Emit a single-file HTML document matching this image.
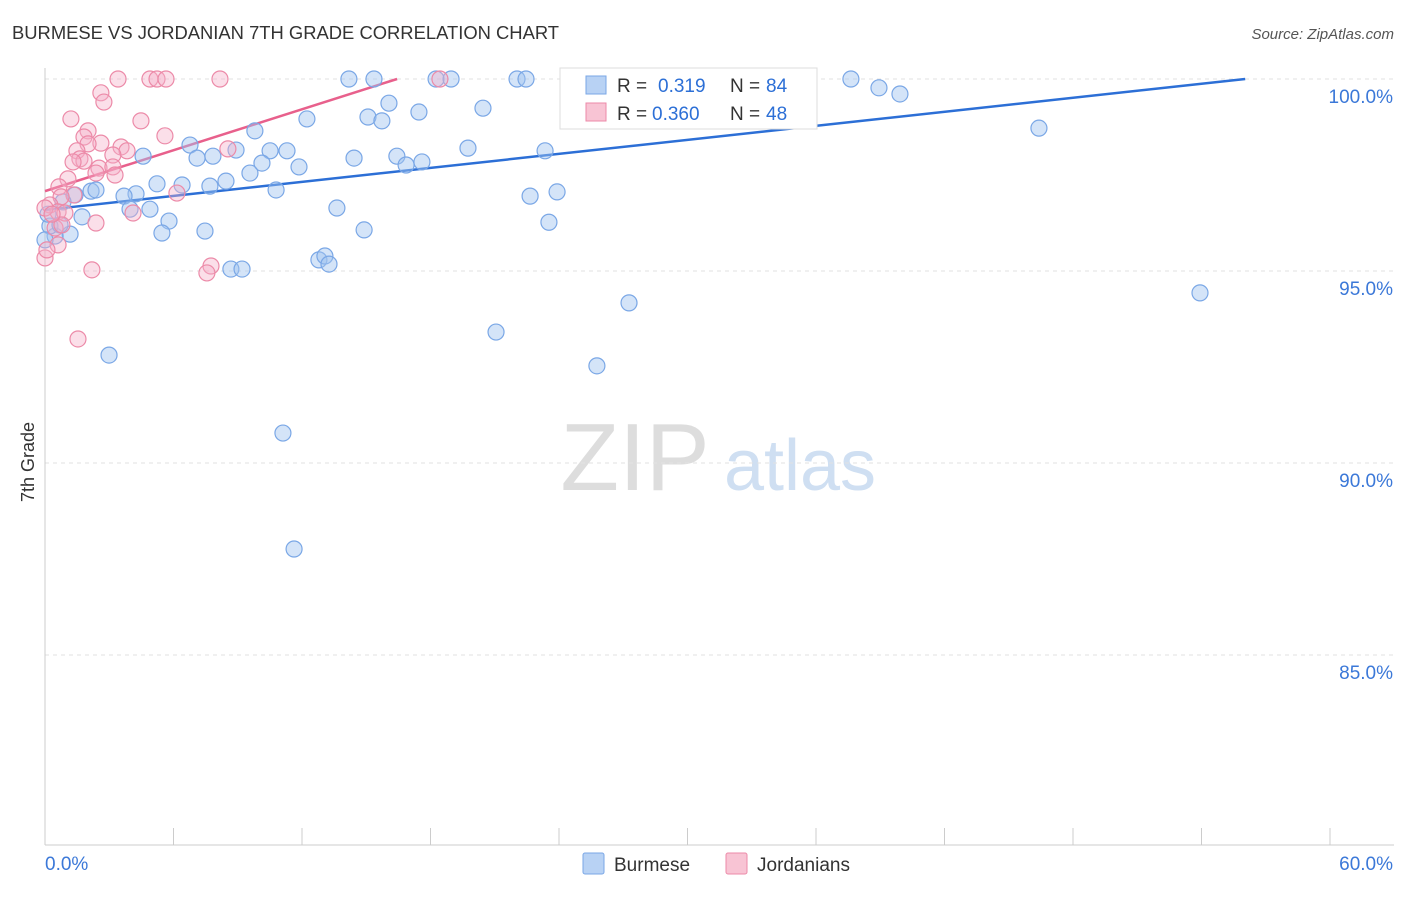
<!DOCTYPE html>
<html><head><meta charset="utf-8">
<style>
body{margin:0;background:#fff;font-family:"Liberation Sans",sans-serif;}
svg text{font-family:"Liberation Sans",sans-serif;}
</style></head>
<body>
<svg width="1406" height="892" id="chart">
<text x="12" y="39" font-size="18.4" fill="#333">BURMESE VS JORDANIAN 7TH GRADE CORRELATION CHART</text>
<text x="1394" y="39" font-size="15" fill="#555" text-anchor="end" font-style="italic">Source: ZipAtlas.com</text>
<text x="34" y="462" font-size="18" fill="#333" text-anchor="middle" transform="rotate(-90 34 462)">7th Grade</text>
<g>
<text x="635" y="490" font-size="96" fill="#ddd" text-anchor="middle" font-family="Liberation Serif, serif">ZIP</text>
<text x="800" y="490" font-size="72" fill="#cfdff2" text-anchor="middle">atlas</text>
</g>
<g id="grid"></g>
<g id="lines"></g>
<g id="pts"></g>
<g>
<rect x="560" y="68" width="257" height="61" fill="#fff" stroke="#ddd"/>
<rect x="586" y="76" width="20" height="18" fill="#b8d2f4" stroke="#7aa7e6"/>
<text x="617" y="92" font-size="19" fill="#333">R = </text><text x="658" y="92" font-size="19" fill="#2c6fd6">0.319</text>
<text x="730" y="92" font-size="19" fill="#333">N = </text><text x="766" y="92" font-size="19" fill="#2c6fd6">84</text>
<rect x="586" y="103" width="20" height="18" fill="#f8c4d4" stroke="#ec8aa8"/>
<text x="617" y="120" font-size="19" fill="#333">R = </text><text x="652" y="120" font-size="19" fill="#2c6fd6">0.360</text>
<text x="730" y="120" font-size="19" fill="#333">N = </text><text x="766" y="120" font-size="19" fill="#2c6fd6">48</text>
</g>
<g>
<rect x="583" y="853" width="21" height="21" fill="#b8d2f4" stroke="#7aa7e6" rx="2"/>
<text x="614" y="871" font-size="19" fill="#333">Burmese</text>
<rect x="726" y="853" width="21" height="21" fill="#f8c4d4" stroke="#ec8aa8" rx="2"/>
<text x="757" y="871" font-size="19" fill="#333">Jordanians</text>
</g>
</svg>
<script>
const xTicks=[0,6,12,18,24,30,36,42,48,54,60];
const yTicks=[85,90,95,100];
const yTickLabels=["85.0%","90.0%","95.0%","100.0%"];
const blueX=[14.19,15.36,18.26,18.96,22.04,22.46,24.98,27.08,29.51,31.24,32.17,37.63,38.94,39.92,46.41,53.93,16.06,12.23,15.08,15.73,17.46,20.45,24.56,9.80,6.77,8.92,10.51,11.30,14.43,16.43,19.75,23.35,4.58,7.10,7.84,10.13,11.86,16.86,17.60,9.57,8.45,7.70,6.40,5.23,10.79,4.25,3.69,2.15,2.38,1.40,0.84,22.65,23.91,3.97,4.90,13.63,1.73,5.79,1.17,0.47,0.23,5.46,7.47,14.90,23.53,12.79,13.07,13.26,8.68,9.20,27.27,21.06,2.99,25.77,11.11,11.63,0.14,0.70,0.0,31.98,30.12,26.85];
const blueY=[100,100,100,100,100,100,100,100,100,100,100,100,99.77,99.61,98.72,94.43,99.37,98.96,99.01,98.91,99.14,99.24,98.98,98.65,98.28,98.15,98.13,98.13,97.94,97.99,98.20,98.13,97.99,97.94,97.99,97.81,97.71,97.76,97.84,97.55,97.34,97.21,97.24,97.27,97.11,97.01,96.95,97.08,97.11,96.98,96.80,96.95,97.06,96.61,96.61,96.64,96.41,96.30,95.96,95.91,96.17,95.99,96.04,96.07,96.27,95.29,95.39,95.18,95.05,95.05,94.17,93.41,92.81,92.53,90.78,87.76,96.48,96.20,95.81,99.45,99.71,99.58];
const pinkX=[3.41,4.90,5.23,5.65,8.17,18.44,2.61,2.75,1.21,4.48,2.01,1.82,2.61,2.01,3.55,3.83,1.49,1.63,1.82,1.31,3.17,5.60,8.54,2.52,3.17,2.38,1.07,0.65,1.35,0.75,0.23,0.61,0.0,0.93,4.11,2.38,0.47,6.16,7.75,7.56,2.19,1.54,0.61,0.0,0.79,0.33,0.09,3.27];
const pinkY=[100,100,100,100,100,100,99.64,99.40,98.96,98.91,98.65,98.49,98.33,98.31,98.23,98.13,98.13,97.92,97.86,97.84,98.02,98.52,98.18,97.68,97.71,97.55,97.40,97.19,96.98,96.93,96.72,96.54,96.64,96.51,96.51,96.25,96.12,97.03,95.13,94.95,95.03,93.23,95.68,95.34,96.20,96.48,95.55,97.50];
const blueTrend=[[0,96.59],[56.04,100]];
const pinkTrend=[[0,97.08],[16.44,100]];
const NS="http://www.w3.org/2000/svg";
const X=v=>45+v*(1285/60), Y=v=>79+(100-v)*38.4;
function mk(t,a,p){const e=document.createElementNS(NS,t);for(const k in a)e.setAttribute(k,a[k]);p.appendChild(e);return e;}
const g=document.getElementById('grid');
yTicks.forEach((t,i)=>{
 const l=mk('line',{x1:45,x2:1394,y1:Y(t),y2:Y(t),stroke:'#e2e2e2','stroke-dasharray':'4,4'},g);
 
 
 const tx=mk('text',{x:1393,y:Y(t)+24,'font-size':19,fill:'#3b78d8','text-anchor':'end'},g);tx.textContent=yTickLabels[i];
 
 
});
const ax=mk('line',{x1:45,x2:1394,y1:845,y2:845,stroke:'#ccc'},g);


const ay=mk('line',{x1:45,x2:45,y1:68,y2:845,stroke:'#ccc'},g);


xTicks.forEach(t=>{const l=mk('line',{x1:X(t),x2:X(t),y1:828,y2:845,stroke:'#ccc'},g);
 
 });
const t0=mk('text',{x:45,y:870,'font-size':19,fill:'#3b78d8'},g);t0.textContent=xTicks[0].toFixed(1)+'%';


const t1=mk('text',{x:1393,y:870,'font-size':19,fill:'#3b78d8','text-anchor':'end'},g);t1.textContent=xTicks[xTicks.length-1].toFixed(1)+'%';


const p=document.getElementById('pts');
blueX.forEach((v,i)=>{const c=mk('circle',{cx:X(v),cy:Y(blueY[i]),r:8,fill:'rgba(160,195,240,0.45)',stroke:'#7aa7e6','stroke-width':1.2},p);
 
 });
pinkX.forEach((v,i)=>{const c=mk('circle',{cx:X(v),cy:Y(pinkY[i]),r:8,fill:'rgba(245,175,200,0.4)',stroke:'#ec8aa8','stroke-width':1.2},p);
 
 });
const ln=document.getElementById('lines');
const bl=mk('line',{x1:X(blueTrend[0][0]),y1:Y(blueTrend[0][1]),x2:X(blueTrend[1][0]),y2:Y(blueTrend[1][1]),stroke:'#2c6fd6','stroke-width':2.5},ln);


const pl=mk('line',{x1:X(pinkTrend[0][0]),y1:Y(pinkTrend[0][1]),x2:X(pinkTrend[1][0]),y2:Y(pinkTrend[1][1]),stroke:'#e8608c','stroke-width':2.5},ln);


</script>
</body></html>
